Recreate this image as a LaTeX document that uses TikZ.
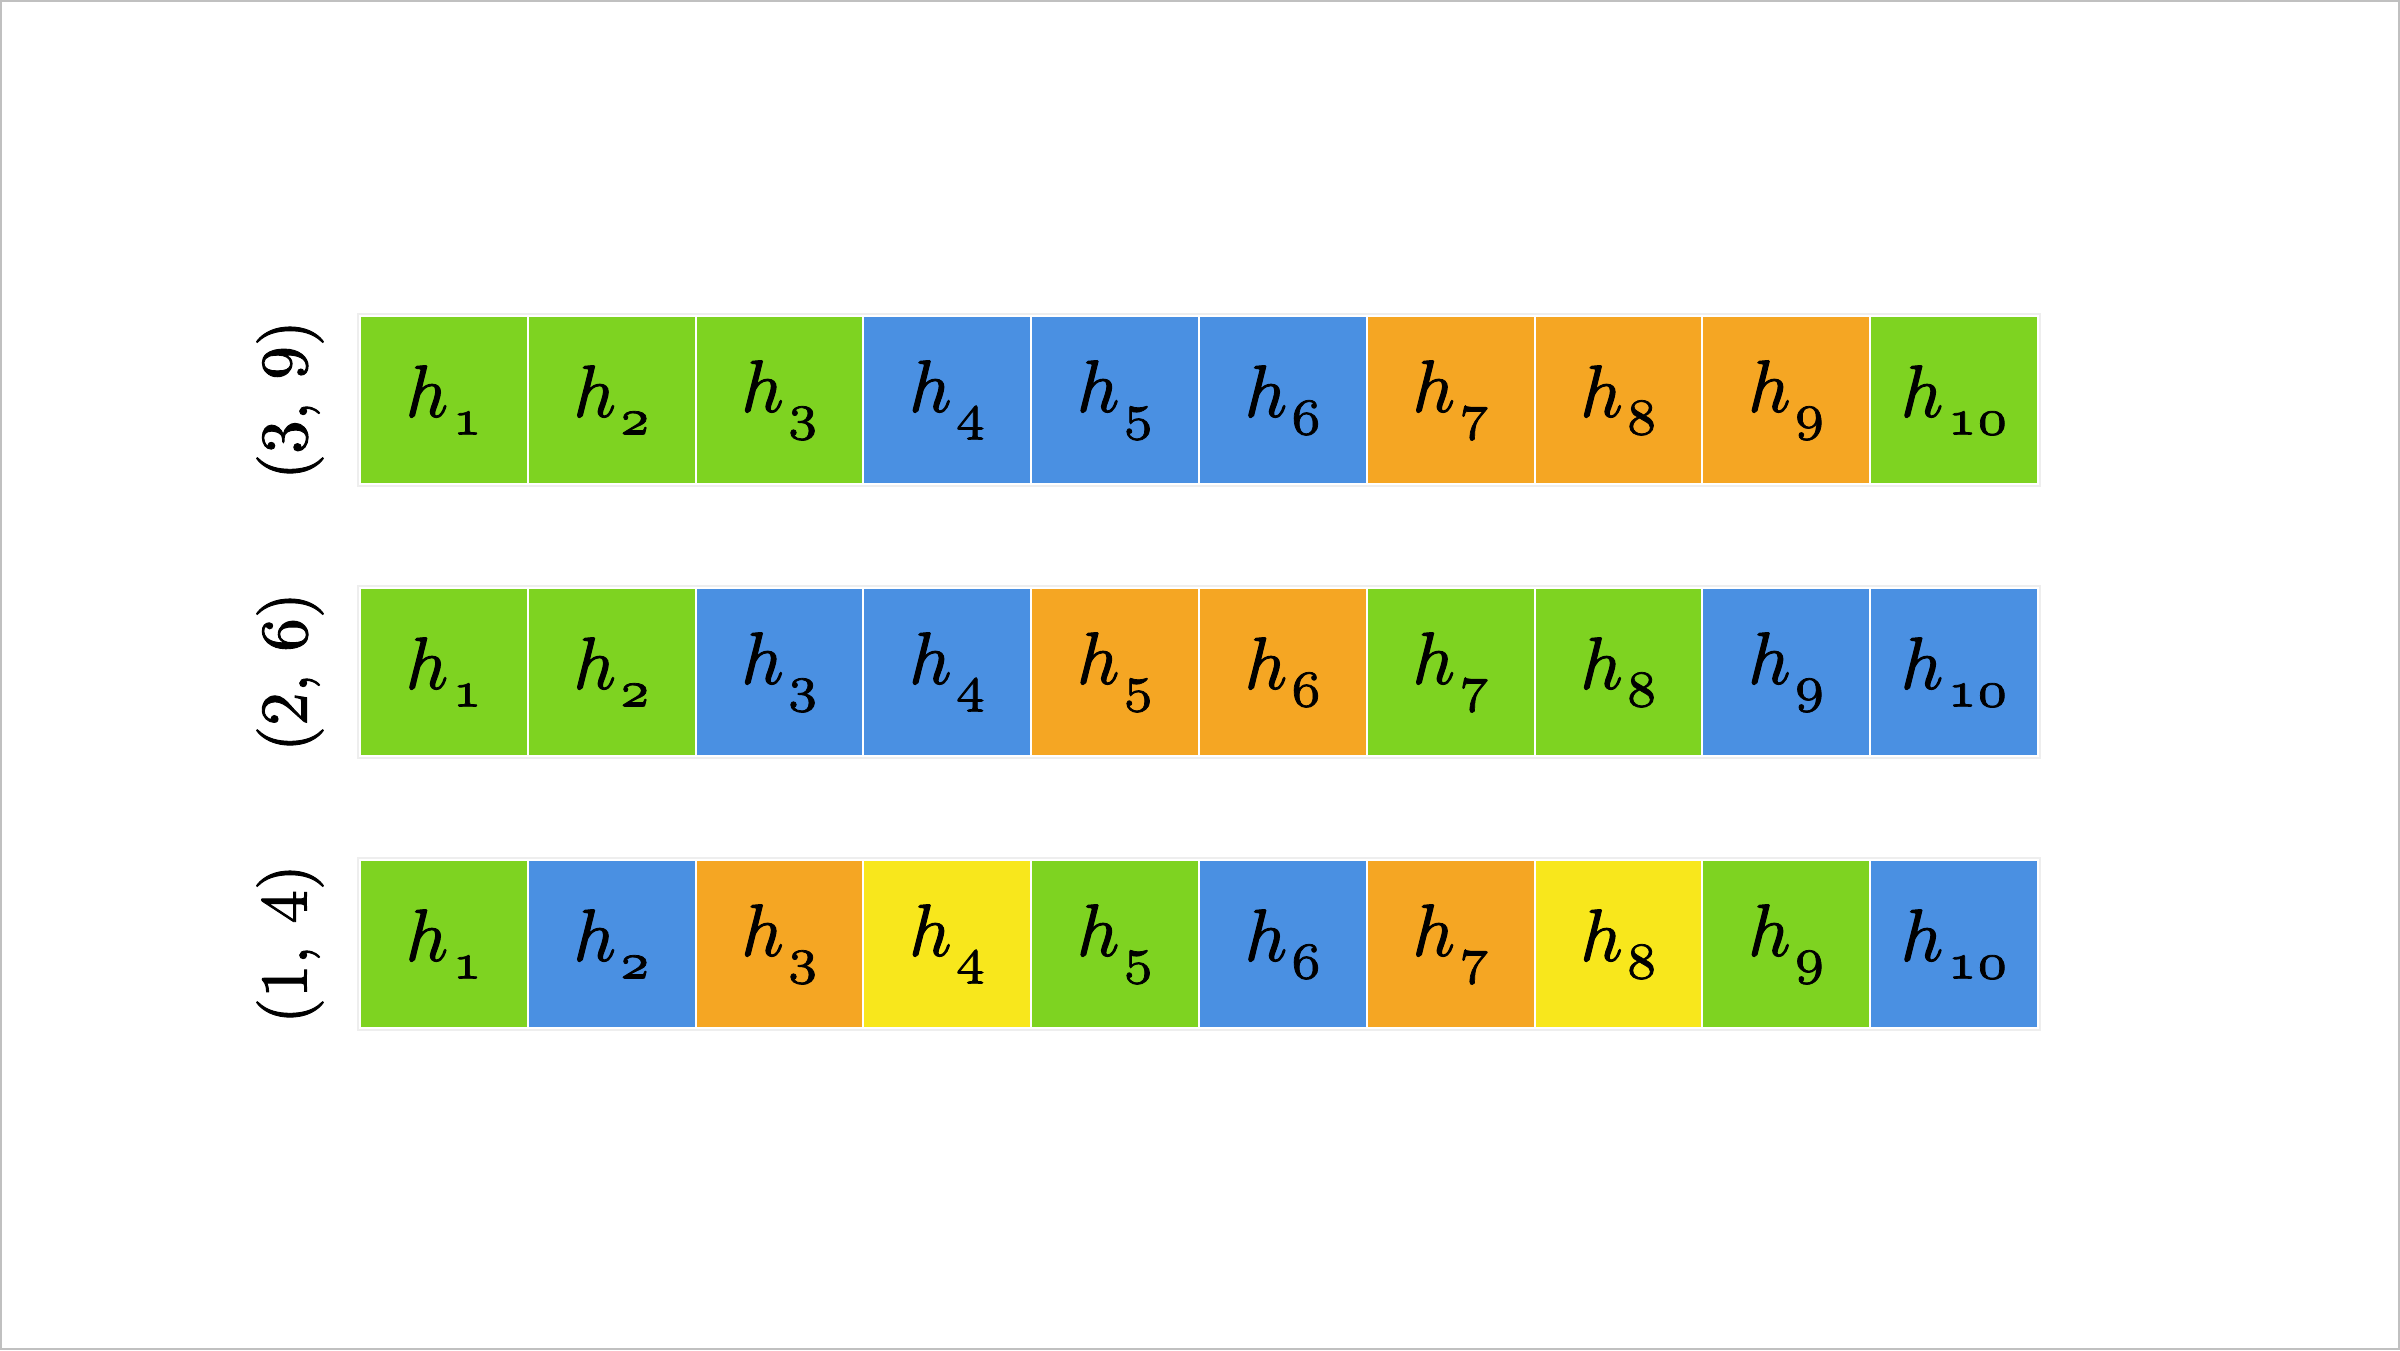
\documentclass[tikz,border=0pt]{standalone}
\definecolor{cgreen}{HTML}{7ED321}
\definecolor{cblue}{HTML}{4A90E2}
\definecolor{corange}{HTML}{F5A623}
\definecolor{cyellow}{HTML}{F8E71C}
\definecolor{frame}{HTML}{C0C0C0}
\definecolor{rowline}{HTML}{EEEEEE}
\newcommand{\heavy}[2]{\special{pdf:literal 2 Tr #1 w 0 G}#2\special{pdf:literal 0 Tr}}
\newcommand{\hcell}[1]{\scalebox{2.1}{\heavy{0.14}{$h$}\kern0.5pt\raisebox{-2.4pt}{\heavy{0.1}{$\scriptstyle\mathnormal{#1}$}}}}
\newcommand{\rlab}[1]{\scalebox{1.9}{\heavy{0.14}{#1}}}
\tikzset{
  cell/.style={draw=white, line width=0.2mm, minimum width=16.78mm, minimum height=16.8mm,
    inner sep=0pt, anchor=center},
  rowlabel/.style={rotate=90, inner sep=0pt},
  rowframe/.style={draw=rowline, line width=0.2mm},
}
\begin{document}
\begin{tikzpicture}[x=0.1mm,y=-0.1mm]
\useasboundingbox (0,0) rectangle (2400,1350);
\draw[frame, line width=0.25mm] (1.2,1.2) rectangle (2398.8,1348.8);
% row outlines
\foreach \r/\t in {1/316,2/588,3/860}{
  \draw[rowframe] (358,\t-2) rectangle (2040,\t+170);
}
% row 1 (3,9)
\foreach \c/\col in {1/cgreen,2/cgreen,3/cgreen,4/cblue,5/cblue,6/cblue,7/corange,8/corange,9/corange,10/cgreen}{
  \node[cell, fill=\col] (r1c\c) at ({360+167.8*(\c-0.5)},400) {\hcell{\c}};
}
% row 2 (2,6)
\foreach \c/\col in {1/cgreen,2/cgreen,3/cblue,4/cblue,5/corange,6/corange,7/cgreen,8/cgreen,9/cblue,10/cblue}{
  \node[cell, fill=\col] (r2c\c) at ({360+167.8*(\c-0.5)},672) {\hcell{\c}};
}
% row 3 (1,4)
\foreach \c/\col in {1/cgreen,2/cblue,3/corange,4/cyellow,5/cgreen,6/cblue,7/corange,8/cyellow,9/cgreen,10/cblue}{
  \node[cell, fill=\col] (r3c\c) at ({360+167.8*(\c-0.5)},944) {\hcell{\c}};
}
\node[rowlabel] (lab1) at (290,400) {\rlab{(3, 9)}};
\node[rowlabel] (lab2) at (290,672) {\rlab{(2, 6)}};
\node[rowlabel] (lab3) at (290,944) {\rlab{(1, 4)}};
\end{tikzpicture}
\end{document}
